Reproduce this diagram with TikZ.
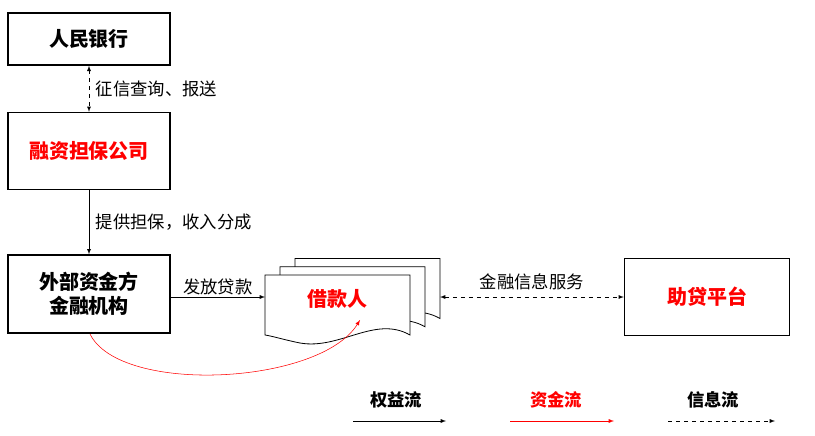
\documentclass[tikz,border=0pt]{standalone}
\usepackage{fontspec}
\setmainfont{Noto Sans CJK SC}
\usetikzlibrary{arrows,positioning}
\tikzstyle{box} = [shape=rectangle, draw, line width=1pt,
		minimum width=121.5pt, minimum height=39pt, align=center,
		font=\bfseries\fontsize{15pt}{18pt}\selectfont]
\tikzstyle{lbl} = [font=\fontsize{13pt}{15pt}\selectfont]
\tikzstyle{page} = [draw, fill=white, line width=0.6pt]
\begin{document}
\begin{tikzpicture}[x=0.75pt,y=-0.75pt]
	\useasboundingbox (0,0) rectangle (815,436);
	\node[box] (pboc) at (89,39) {人民银行};
	\node[box, minimum height=57.75pt, text=red] (guar) at (89,151) {融资担保公司};
	\node[box, minimum height=58.5pt] (bank) at (89,294) {外部资金方\\金融机构};
	\node[box, minimum width=123.75pt, minimum height=57.75pt, text=red] (plat) at (707,297) {助贷平台};
	% borrower pages
	\foreach \d in {30,15,0}{
		\draw[page] (265+\d,275-\d*0.55) -- (410+\d,275-\d*0.55) -- (410+\d,335-\d*0.55)
			.. controls (375+\d,315-\d*0.55) and (340+\d,350-\d*0.55) .. (300+\d,343-\d*0.55)
			.. controls (285+\d,340-\d*0.55) and (272+\d,336-\d*0.55) .. (265+\d,335-\d*0.55) -- cycle;
	}
	\node[font=\bfseries\fontsize{15pt}{18pt}\selectfont, text=red] (borr) at (337,299) {借款人};
	\coordinate (bl) at (265,297);
	\coordinate (br) at (440,297);
	\coordinate (btop) at (360,320);
	% flows
	\draw[>=latex,<->,dashed] (pboc) -- node[lbl, right=1.5pt] {征信查询、报送} (guar);
	\draw[>=latex,->] (guar) -- node[lbl, right=1.5pt] {提供担保，收入分成} (bank);
	\draw[>=latex,->] (bank.east |- bl) -- node[lbl, above=-2pt] {发放贷款} (bl);
	\draw[>=latex,<->,dashed] (br) -- node[lbl, above=2pt] {金融信息服务} (plat.west |- br);
	\draw[>=latex,->,red] (90,334) .. controls (120,395) and (320,385) .. (btop);
	% legend
	\node[font=\bfseries\fontsize{13pt}{15pt}\selectfont] (k1) at (396,400) {权益流};
	\node[font=\bfseries\fontsize{13pt}{15pt}\selectfont, text=red] (k2) at (556,400) {资金流};
	\node[font=\bfseries\fontsize{13pt}{15pt}\selectfont] (k3) at (713,400) {信息流};
	\draw[>=latex,->] (353,421) -- (446,421);
	\draw[>=latex,->,red] (510,421) -- (614,421);
	\draw[>=latex,->,dashed] (668,421) -- (775,421);
\end{tikzpicture}
\end{document}
